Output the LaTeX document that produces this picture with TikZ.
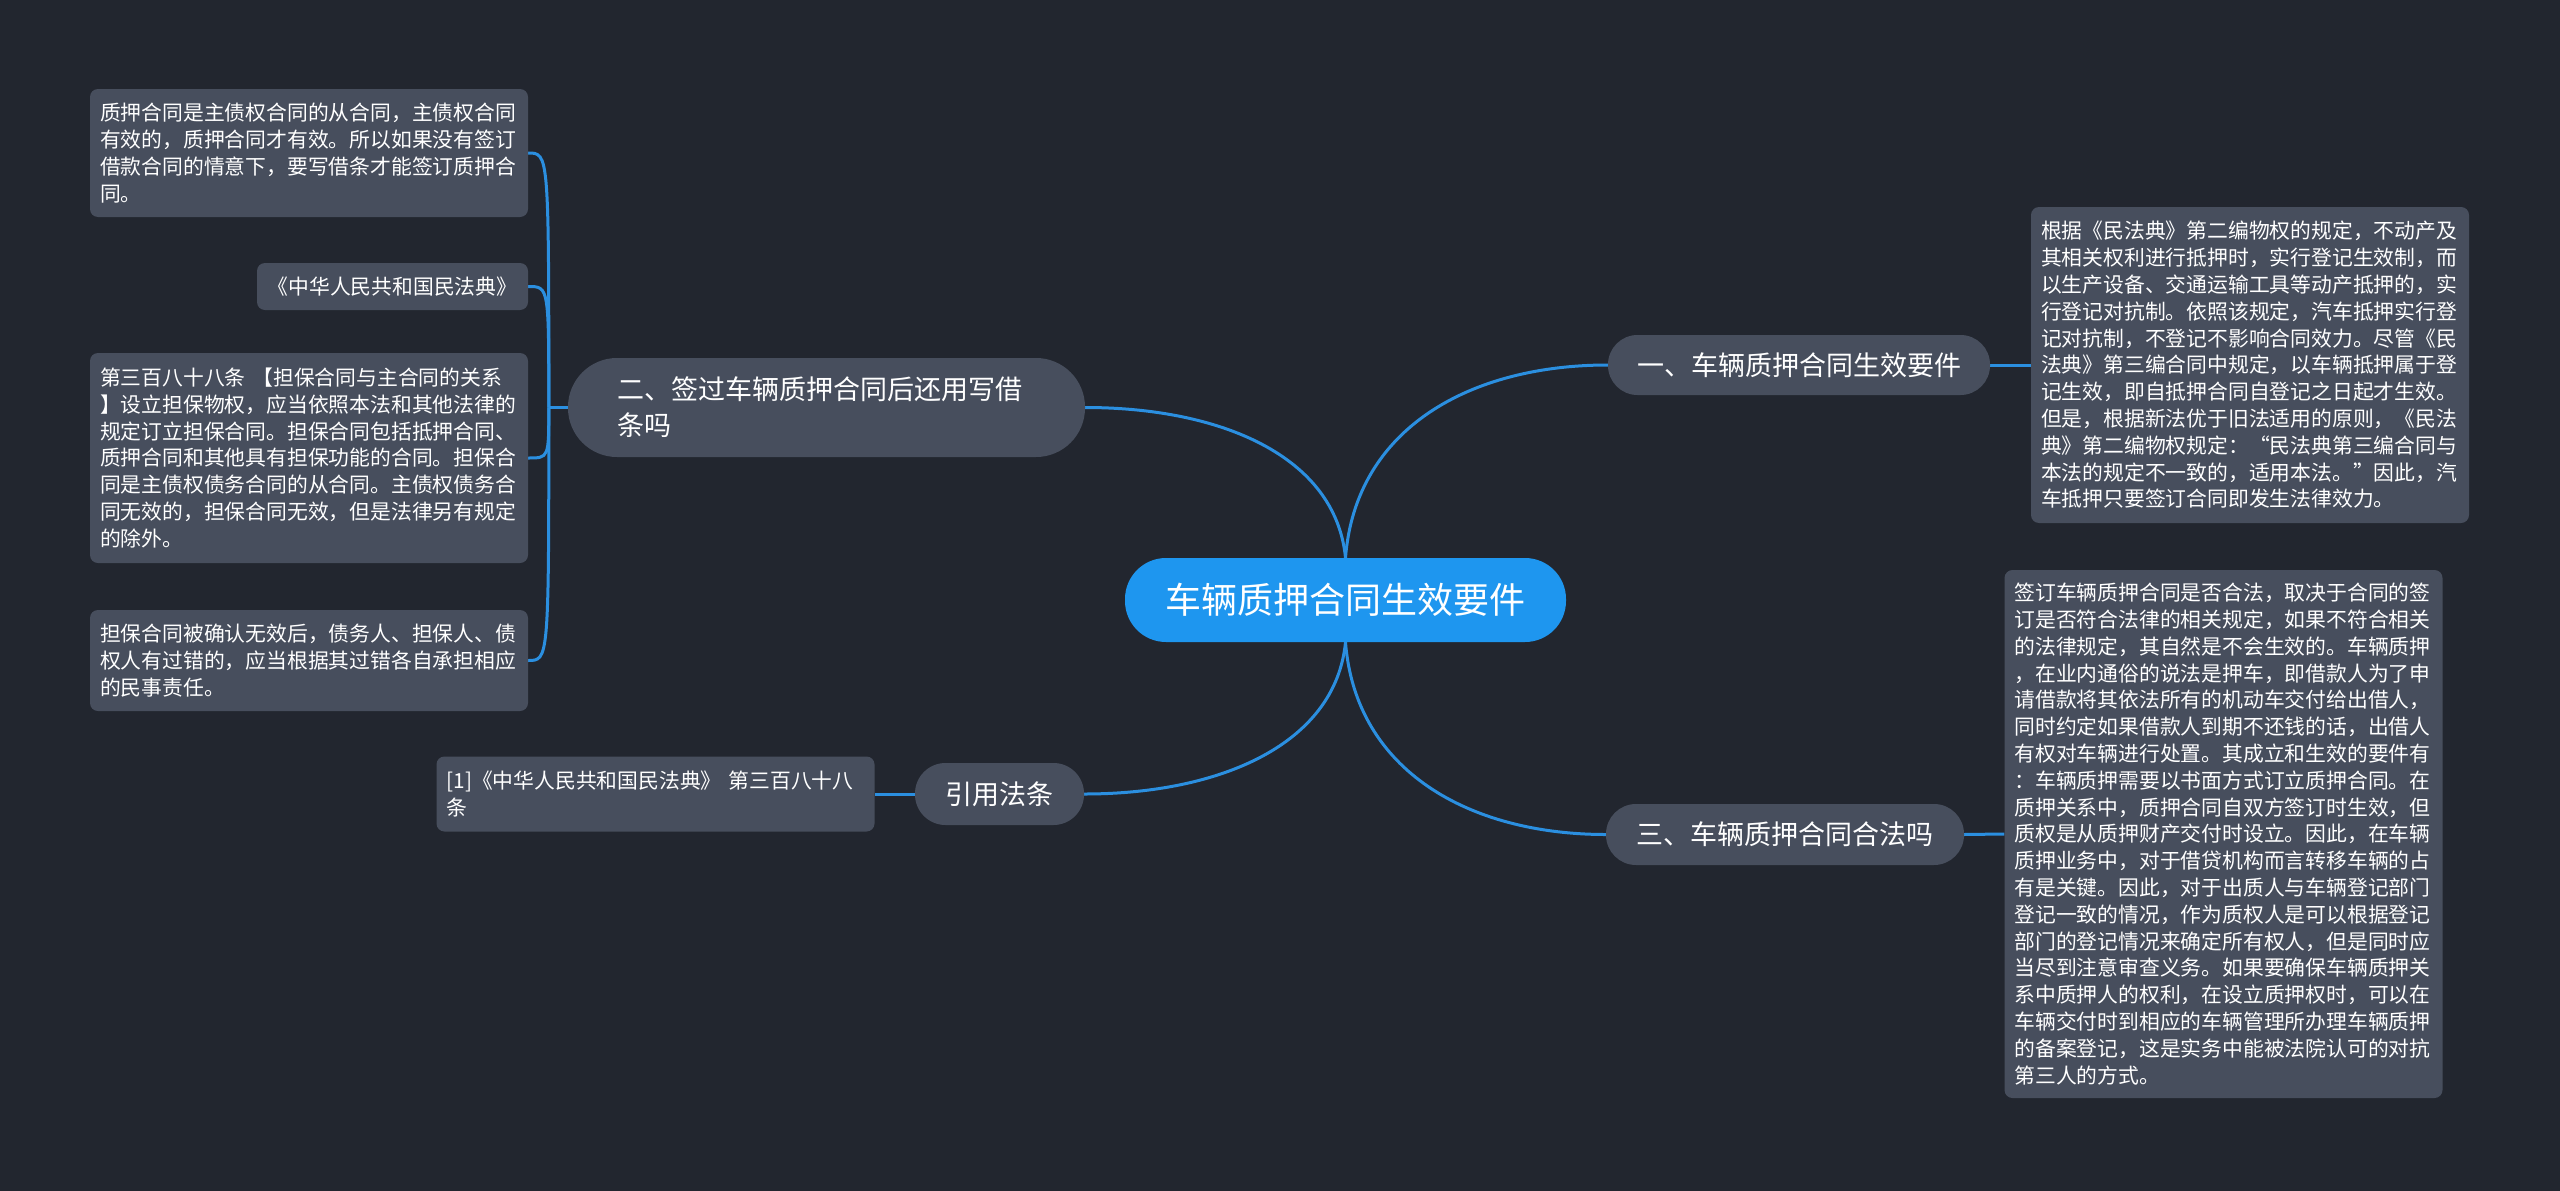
\documentclass[tikz,border=0pt]{standalone}
\usepackage{fontspec}
\setmainfont{Noto Sans CJK SC}
\usetikzlibrary{calc}
\definecolor{bgc}{HTML}{22262F}
\definecolor{boxc}{HTML}{474E5D}
\definecolor{rootc}{HTML}{1E96EF}
\definecolor{linec}{HTML}{2B8FE0}
\hfuzz=80pt \hbadness=10000
\pgfdeclarelayer{bg}
\pgfsetlayers{bg,main}
\begin{document}
\begin{tikzpicture}[x=1pt,y=-1pt,
  leaf/.style={fill=boxc, rounded corners=8pt, text=white, align=left, text width=418pt, inner xsep=10pt, inner ysep=0pt, font=\fontsize{20.8}{26.8}\selectfont},
  branch/.style={fill=boxc, text=white, inner sep=0pt, font=\fontsize{27}{36}\selectfont},
  conn/.style={draw=linec, line width=3pt}]
\useasboundingbox (0,0) rectangle (2560,1191);

% root
\node[fill=rootc, rounded corners=41pt, text=white, inner sep=0pt, minimum width=441pt, minimum height=84pt, font=\fontsize{36}{40}\selectfont] (root) at (1345.5,600) {车辆质押合同生效要件};

% branches
\node[branch, rounded corners=29.5pt, minimum width=382pt, minimum height=60pt] (b1) at (1799,365) {一、车辆质押合同生效要件};
\node[branch, rounded corners=49pt, align=left, text width=419pt, inner xsep=49pt, minimum height=99pt] (b2) at (826.5,407.5) {二、签过车辆质押合同后还用写借\\条吗};
\node[branch, rounded corners=30pt, minimum width=358pt, minimum height=61pt] (b3) at (1785,834.5) {三、车辆质押合同合法吗};
\node[branch, rounded corners=30.5pt, minimum width=169pt, minimum height=62pt] (b4) at (999.5,794) {引用法条};

% leaves left
\node[leaf, minimum height=128pt] (l1) at (309,153) {质押合同是主债权合同的从合同，主债权合同\\有效的，质押合同才有效。所以如果没有签订\\借款合同的情意下，要写借条才能签订质押合\\同。};
\node[fill=boxc, rounded corners=8pt, text=white, inner sep=0pt, minimum width=271pt, minimum height=47pt, font=\fontsize{20.8}{26.8}\selectfont] (l2) at (392.5,286.5) {《中华人民共和国民法典》};
\node[leaf, minimum height=210pt] (l3) at (309,458) {第三百八十八条 【担保合同与主合同的关系\\】设立担保物权，应当依照本法和其他法律的\\规定订立担保合同。担保合同包括抵押合同、\\质押合同和其他具有担保功能的合同。担保合\\同是主债权债务合同的从合同。主债权债务合\\同无效的，担保合同无效，但是法律另有规定\\的除外。};
\node[leaf, minimum height=101pt] (l4) at (309,660.5) {担保合同被确认无效后，债务人、担保人、债\\权人有过错的，应当根据其过错各自承担相应\\的民事责任。};
\node[leaf, minimum height=75pt] (l5) at (655.5,794) {[1]《中华人民共和国民法典》 第三百八十八\\条};

% leaves right
\node[leaf, minimum height=316pt] (r1) at (2250,365) {根据《民法典》第二编物权的规定，不动产及\\其相关权利进行抵押时，实行登记生效制，而\\以生产设备、交通运输工具等动产抵押的，实\\行登记对抗制。依照该规定，汽车抵押实行登\\记对抗制，不登记不影响合同效力。尽管《民\\法典》第三编合同中规定，以车辆抵押属于登\\记生效，即自抵押合同自登记之日起才生效。\\但是，根据新法优于旧法适用的原则，《民法\\典》第二编物权规定：“民法典第三编合同与\\本法的规定不一致的，适用本法。”因此，汽\\车抵押只要签订合同即发生法律效力。};
\node[leaf, minimum height=528pt] (r2) at (2223.5,834) {签订车辆质押合同是否合法，取决于合同的签\\订是否符合法律的相关规定，如果不符合相关\\的法律规定，其自然是不会生效的。车辆质押\\，在业内通俗的说法是押车，即借款人为了申\\请借款将其依法所有的机动车交付给出借人，\\同时约定如果借款人到期不还钱的话，出借人\\有权对车辆进行处置。其成立和生效的要件有\\：车辆质押需要以书面方式订立质押合同。在\\质押关系中，质押合同自双方签订时生效，但\\质权是从质押财产交付时设立。因此，在车辆\\质押业务中，对于借贷机构而言转移车辆的占\\有是关键。因此，对于出质人与车辆登记部门\\登记一致的情况，作为质权人是可以根据登记\\部门的登记情况来确定所有权人，但是同时应\\当尽到注意审查义务。如果要确保车辆质押关\\系中质押人的权利，在设立质押权时，可以在\\车辆交付时到相应的车辆管理所办理车辆质押\\的备案登记，这是实务中能被法院认可的对抗\\第三人的方式。};

\begin{pgfonlayer}{bg}
\fill[bgc] (0,0) rectangle (2560,1191);
\draw[conn] (root.north) .. controls +(10,-130) and +(-137,0) .. (b1.west);
\draw[conn] (root.north) .. controls +(-10,-102) and +(135,0) .. (b2.east);
\draw[conn] (root.south) .. controls +(10,129) and +(-136,0) .. (b3.west);
\draw[conn] (root.south) .. controls +(-10,102) and +(136,0) .. (b4.east);
\draw[conn] (b1.east) -- (r1.west);
\draw[conn] (b3.east) -- (r2.west);
\draw[conn] (b4.west) -- (l5.east);
\coordinate (j) at ($(b2.west)+(-19,0)$);
\draw[conn] (b2.west) -- (j);
\foreach \n in {l1,l2,l3,l4} \draw[conn] (j) .. controls (j |- \n.east) .. (\n.east);
\end{pgfonlayer}
\end{tikzpicture}
\end{document}
